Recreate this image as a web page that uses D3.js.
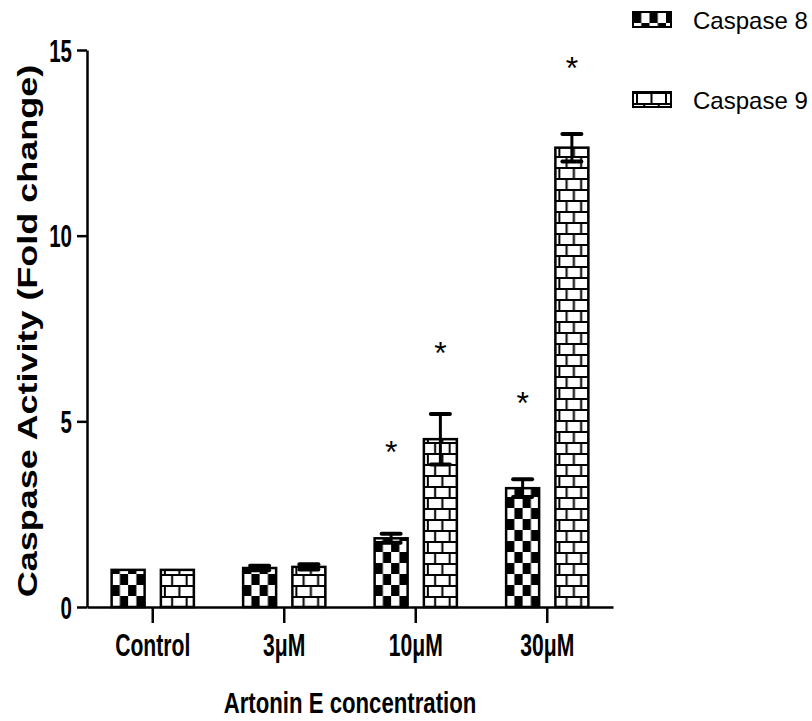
<!DOCTYPE html>
<html>
<head>
<meta charset="utf-8">
<script src="https://cdn.jsdelivr.net/npm/d3@7"></script>
<style>
    body { margin: 0; background: #fff; }
    text { font-family: "Liberation Sans", Arial, sans-serif; fill: #000; }
</style>
</head>
<body>
<div id="chart"></div>
<script>
// data
const groups = ["Control", "3\u03bcM", "10\u03bcM", "30\u03bcM"];
const seriesNames = ["Caspase 8", "Caspase 9"];
const casp8 = [1.0, 1.05, 1.85, 3.2];
const casp8Err = [0, 0.06, 0.12, 0.24];
const casp9 = [1.0, 1.08, 4.52, 12.37];
const casp9Err = [0, 0.07, 0.68, 0.37];
// asterisk level (fold change) or null when no mark
const casp8Star = [null, null, 4.34, 5.66];
const casp9Star = [null, null, 7.0, 14.69];
const yTicks = [0, 5, 10, 15];

const width = 812, height = 721;
const svg = d3.select("#chart").append("svg")
    .attr("width", width)
    .attr("height", height);
svg.append("rect").attr("width", width).attr("height", height).attr("fill", "#fff");

// scales
const x0 = d3.scaleBand().domain(groups).range([87, 613]).padding(0);
const x1 = d3.scaleBand().domain(seriesNames).range([0, x0.bandwidth()])
    .paddingInner(0.33).paddingOuter(0.5);
const y = d3.scaleLinear().domain([0, 15]).range([607, 50]);

// build bar records
let bars = [];
groups.forEach(function (g, i) {
    bars.push({group: g, series: "Caspase 8", value: casp8[i], err: casp8Err[i], star: casp8Star[i]});
    bars.push({group: g, series: "Caspase 9", value: casp9[i], err: casp9Err[i], star: casp9Star[i]});
});

// patterns
const defs = svg.append("defs");
const cellW = 8.25, cellH = 11;
const brickW = 14.5, brickH = 11;

const makeChecker = function (id, px, py) {
    const p = defs.append("pattern")
        .attr("id", id)
        .attr("patternUnits", "userSpaceOnUse")
        .attr("x", px).attr("y", py)
        .attr("width", cellW * 2).attr("height", cellH * 2);
    p.append("rect").attr("width", cellW * 2).attr("height", cellH * 2).attr("fill", "#fff");
    p.append("rect").attr("x", 0).attr("y", 0).attr("width", cellW).attr("height", cellH).attr("fill", "#000");
    p.append("rect").attr("x", cellW).attr("y", cellH).attr("width", cellW).attr("height", cellH).attr("fill", "#000");
};
const makeBrick = function (id, px, py) {
    const p = defs.append("pattern")
        .attr("id", id)
        .attr("patternUnits", "userSpaceOnUse")
        .attr("x", px).attr("y", py)
        .attr("width", brickW * 2).attr("height", brickH * 2);
    p.append("rect").attr("width", brickW * 2).attr("height", brickH * 2).attr("fill", "#fff");
    // horizontal mortar
    p.append("rect").attr("x", 0).attr("y", 0).attr("width", brickW * 2).attr("height", 2).attr("fill", "#000");
    p.append("rect").attr("x", 0).attr("y", brickH).attr("width", brickW * 2).attr("height", 2).attr("fill", "#000");
    // vertical joints, offset every other row
    p.append("rect").attr("x", 3).attr("y", 0).attr("width", 2).attr("height", brickH).attr("fill", "#000");
    p.append("rect").attr("x", 3 + brickW).attr("y", 0).attr("width", 2).attr("height", brickH).attr("fill", "#000");
    p.append("rect").attr("x", 3 + brickW / 2).attr("y", brickH).attr("width", 2).attr("height", brickH).attr("fill", "#000");
    p.append("rect").attr("x", 3 + brickW * 1.5).attr("y", brickH).attr("width", 2).attr("height", brickH).attr("fill", "#000");
};

bars.forEach(function (d, i) {
    const bx = x0(d.group) + x1(d.series);
    d.pid = "pat" + i;
    if (d.series === "Caspase 8") {
        makeChecker(d.pid, bx, y(0));
    } else {
        makeBrick(d.pid, bx, y(0));
    }
});

// axes
const yAxis = d3.axisLeft(y).tickValues(yTicks).tickSize(10).tickSizeOuter(0).tickFormat(d3.format("d"));
const gy = svg.append("g").attr("transform", "translate(87,0)").call(yAxis);
gy.select(".domain").attr("stroke-width", 2.5);
gy.selectAll(".tick line").attr("stroke-width", 2.5);
gy.selectAll(".tick text")
    .attr("x", null).attr("dy", null)
    .attr("transform", "translate(-15,11) scale(0.66,1)")
    .attr("text-anchor", "end")
    .style("font-size", "31px")
    .style("font-weight", "bold")
    .style("font-family", "'Liberation Sans', Arial, sans-serif");

const xAxis = d3.axisBottom(x0).tickSize(16).tickSizeOuter(0);
const gx = svg.append("g").attr("transform", "translate(0," + y(0) + ")").call(xAxis);
gx.select(".domain").attr("stroke-width", 2.5);
gx.selectAll(".tick line").attr("stroke-width", 2.5);
gx.selectAll(".tick text")
    .attr("y", null).attr("dy", null)
    .attr("transform", "translate(0,49) scale(0.66,1)")
    .attr("text-anchor", "middle")
    .style("font-size", "32px")
    .style("font-weight", "bold")
    .style("font-family", "'Liberation Sans', Arial, sans-serif");

// bars
svg.selectAll(".bar")
    .data(bars)
    .enter()
    .append("rect")
    .attr("class", "bar")
    .attr("x", function (d) { return x0(d.group) + x1(d.series); })
    .attr("y", function (d) { return y(d.value); })
    .attr("width", x1.bandwidth())
    .attr("height", function (d) { return y(0) - y(d.value); })
    .attr("fill", function (d) { return "url(#" + d.pid + ")"; })
    .attr("stroke", "#000")
    .attr("stroke-width", 2.5);

// error bars
const errBars = bars.filter(function (d) { return d.err > 0; });
const cx = function (d) { return x0(d.group) + x1(d.series) + x1.bandwidth() / 2; };
const eg = svg.selectAll(".err")
    .data(errBars)
    .enter()
    .append("g")
    .attr("class", "err");
eg.append("line")
    .attr("x1", cx).attr("x2", cx)
    .attr("y1", function (d) { return y(d.value - d.err); })
    .attr("y2", function (d) { return y(d.value + d.err); })
    .attr("stroke", "#000").attr("stroke-width", 3);
eg.append("line")
    .attr("x1", function (d) { return cx(d) - 9.5; })
    .attr("x2", function (d) { return cx(d) + 9.5; })
    .attr("y1", function (d) { return y(d.value + d.err); })
    .attr("y2", function (d) { return y(d.value + d.err); })
    .attr("stroke", "#000").attr("stroke-width", 4).attr("stroke-linecap", "round");
eg.append("line")
    .attr("x1", function (d) { return cx(d) - 9.5; })
    .attr("x2", function (d) { return cx(d) + 9.5; })
    .attr("y1", function (d) { return y(d.value - d.err); })
    .attr("y2", function (d) { return y(d.value - d.err); })
    .attr("stroke", "#000").attr("stroke-width", 4).attr("stroke-linecap", "round");

// significance asterisks
svg.selectAll(".star")
    .data(bars.filter(function (d) { return d.star !== null; }))
    .enter()
    .append("text")
    .attr("class", "star")
    .attr("x", cx)
    .attr("y", function (d) { return y(d.star) + 17; })
    .attr("text-anchor", "middle")
    .style("font-size", "32px")
    .text("*");

// axis titles
svg.append("text")
    .attr("transform", "translate(37,331) scale(0.78,1) rotate(-90)")
    .attr("text-anchor", "middle")
    .style("font-size", "36px")
    .style("font-weight", "bold")
    .text("Caspase  Activity  (Fold  change)");

svg.append("text")
    .attr("transform", "translate(350,713) scale(0.74,1)")
    .attr("text-anchor", "middle")
    .style("font-size", "30px")
    .style("font-weight", "bold")
    .text("Artonin E concentration");

// legend
const legendY = [12, 92];
seriesNames.forEach(function (s, i) {
    const id = "leg" + i;
    if (i === 0) makeChecker(id, 633, legendY[i]); else makeBrick(id, 633, legendY[i]);
    svg.append("rect")
        .attr("x", 633).attr("y", legendY[i])
        .attr("width", 38).attr("height", 15)
        .attr("fill", "url(#" + id + ")")
        .attr("stroke", "#000").attr("stroke-width", 2);
    svg.append("text")
        .attr("x", 693).attr("y", legendY[i] + 17)
        .style("font-size", "24px")
        .text(s);
});
</script>
</body>
</html>
